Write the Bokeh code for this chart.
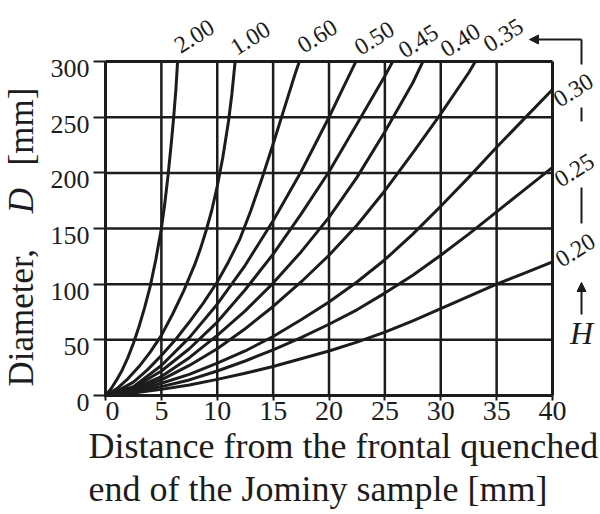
from bokeh.plotting import figure
from bokeh.models import Range1d, FixedTicker, Label, Arrow, NormalHead, ColumnDataSource
from bokeh.core.properties import value
from bokeh.embed import file_html
from bokeh.resources import INLINE

# ---------------- data ----------------
h_values = ["2.00", "1.00", "0.60", "0.50", "0.45", "0.40", "0.35", "0.30", "0.25", "0.20"]

x_h200 = [0, 0.5, 1, 1.5, 2, 2.5, 3, 3.5, 4, 4.5, 5, 5.3, 5.6, 5.9, 6.1, 6.3, 6.45]
d_h200 = [0, 6, 14, 23, 34, 47, 62, 79, 98, 122, 150, 172, 198, 228, 250, 275, 300]

x_h100 = [0, 1, 2, 3, 4, 5, 6, 7, 8, 8.5, 9, 9.5, 10, 10.5, 11, 11.3, 11.6]
d_h100 = [0, 6, 15, 26, 39, 54, 73, 94, 118, 132, 148, 166, 188, 214, 246, 270, 300]

x_h060 = [0, 1.25, 2.5, 3.75, 5, 6.25, 7.5, 8.75, 10, 11, 12, 13, 14, 15, 16, 17, 17.35]
d_h060 = [0, 5, 12, 23, 36, 50, 66, 83, 102, 120, 140, 166, 195, 226, 258, 290, 300]

x_h050 = [0, 2.5, 5, 7.5, 10, 12.5, 15, 17.5, 20, 21.2, 22.4]
d_h050 = [0, 8, 27, 52, 82, 117, 157, 201, 250, 275, 300]

x_h045 = [0, 2.5, 5, 7.5, 10, 12.5, 15, 17.5, 20, 22.5, 25, 25.7]
d_h045 = [0, 7, 22, 42, 66, 95, 127, 163, 201, 244, 287, 300]

x_h040 = [0, 2.5, 5, 7.5, 10, 12.5, 15, 17.5, 20, 22.5, 25, 27.5, 28.4]
d_h040 = [0, 6, 17, 34, 54, 76, 101, 129, 160, 196, 237, 281, 300]

x_h035 = [0, 2.5, 5, 7.5, 10, 12.5, 15, 17.5, 20, 22.5, 25, 27.5, 30, 32.5, 33.1]
d_h035 = [0, 5, 14, 27, 42, 60, 80, 102, 126, 153, 184, 218, 253, 290, 300]

x_h030 = [0, 2.5, 5, 7.5, 10, 12.5, 15, 17.5, 20, 22.5, 25, 27.5, 30, 32.5, 35, 37.5, 40]
d_h030 = [0, 4, 11, 19, 29, 40, 53, 68, 84, 102, 122, 145, 170, 196, 223, 249, 275]

x_h025 = [0, 2.5, 5, 7.5, 10, 12.5, 15, 17.5, 20, 22.5, 25, 27.5, 30, 32.5, 35, 37.5, 40]
d_h025 = [0, 3, 8, 14, 22, 31, 41, 52, 64, 77, 92, 108, 126, 145, 165, 185, 205]

x_h020 = [0, 2.5, 5, 7.5, 10, 12.5, 15, 17.5, 20, 22.5, 25, 27.5, 30, 32.5, 35, 37.5, 40]
d_h020 = [0, 2.2, 5.5, 9.5, 14.5, 20, 26, 33, 40, 48, 57, 67, 78, 89, 100, 110, 120]

curve_x = [x_h200, x_h100, x_h060, x_h050, x_h045, x_h040, x_h035, x_h030, x_h025, x_h020]
curve_d = [d_h200, d_h100, d_h060, d_h050, d_h045, d_h040, d_h035, d_h030, d_h025, d_h020]

x_ticks = [0, 5, 10, 15, 20, 25, 30, 35, 40]
y_ticks = [0, 50, 100, 150, 200, 250, 300]
y_tick_labels = ["0", "50", "100", "150", "200", "250", "300"]

# ---------------- layout (pixels of the 600x514 picture) ----------------
W, H = 600, 514
PX_PER_X = 11.175
PX_PER_Y = 1.113
X0_PX = 105
Y0_PX = 395
FONT = "Liberation Serif"
INK = "#1c1c1c"


def dx(px):
    return (px - X0_PX) / PX_PER_X


def dy(py):
    return (Y0_PX - py) / PX_PER_Y


p = figure(width=W, height=H,
           x_range=Range1d(dx(0), dx(W)),
           y_range=Range1d(dy(H), dy(0)),
           output_backend="svg", toolbar_location=None, title=None,
           min_border=0, min_border_left=0, min_border_right=0,
           min_border_top=0, min_border_bottom=0)
p.outline_line_color = None
p.background_fill_color = "white"
p.border_fill_color = "white"
p.xgrid.visible = False
p.ygrid.visible = False

xmin, xmax = x_ticks[0], x_ticks[-1]
ymin, ymax = y_ticks[0], y_ticks[-1]

# grid lines
p.segment(x0=x_ticks[1:-1], y0=[ymin] * (len(x_ticks) - 2), x1=x_ticks[1:-1], y1=[ymax] * (len(x_ticks) - 2),
          line_color=INK, line_width=2.5)
p.segment(x0=[xmin] * (len(y_ticks) - 2), y0=y_ticks[1:-1], x1=[xmax] * (len(y_ticks) - 2), y1=y_ticks[1:-1],
          line_color=INK, line_width=2.5)
# box
p.segment(x0=[xmin, xmax, xmin, xmin], y0=[ymin, ymin, ymin, ymax],
          x1=[xmin, xmax, xmax, xmax], y1=[ymax, ymax, ymin, ymax],
          line_color=INK, line_width=3)

# curves
for xs, ds in zip(curve_x, curve_d):
    p.line(xs, ds, line_color=INK, line_width=3, line_join="round", line_cap="round")

# H labels
lab_px = [(194, 36), (250, 38), (317, 36), (374, 38), (418, 41), (460, 40), (503, 35),
          (573, 90), (574, 170), (575, 250)]
lab_src = ColumnDataSource(dict(x=[dx(a) for a, b in lab_px], y=[dy(b) for a, b in lab_px], t=h_values))
p.text(x="x", y="y", text="t", source=lab_src, angle=0.56, text_align="center", text_baseline="middle",
       text_font=value(FONT), text_font_size="24px", text_color=INK)

# right-hand H indicator
xr = dx(581)
p.segment(x0=[xr, xr, xr], y0=[dy(39), dy(107), dy(187)], x1=[xr, xr, xr], y1=[dy(64), dy(121), dy(223)],
          line_color=INK, line_width=2)
p.add_layout(Arrow(end=NormalHead(size=9, fill_color=INK, line_color=INK), x_start=xr, y_start=dy(39),
                   x_end=dx(529), y_end=dy(39), line_width=2, line_color=INK))
p.add_layout(Arrow(end=NormalHead(size=9, fill_color=INK, line_color=INK), x_start=xr, y_start=dy(314),
                   x_end=xr, y_end=dy(282), line_width=2, line_color=INK))
p.text(x=[xr], y=[dy(332)], text=["H"], text_align="center", text_baseline="middle",
       text_font=value(FONT), text_font_style="italic", text_font_size="32px", text_color=INK)

# axes (drawn at x = 0 and D = 0 inside the canvas-wide frame)
for ax, ticks, bnds in ((p.xaxis, x_ticks, (xmin, xmax)), (p.yaxis, y_ticks, (ymin, ymax))):
    ax.ticker = FixedTicker(ticks=ticks)
    ax.bounds = bnds
    ax.fixed_location = 0
    ax.axis_line_color = None
    ax.major_tick_line_color = INK
    ax.major_tick_line_width = 2
    ax.minor_tick_line_color = None
    ax.major_label_text_font = FONT
    ax.major_label_text_color = INK

p.xaxis.major_tick_out = 5
p.xaxis.major_tick_in = 0
p.xaxis.major_label_text_font_size = "28px"
p.xaxis.major_label_standoff = -6
p.xaxis.major_label_overrides = {0: "\u20020"}

p.yaxis.major_tick_out = 12
p.yaxis.major_tick_in = 0
p.yaxis.major_label_overrides = {t: "" for t in y_ticks}
# y tick labels sit slightly below their ticks in the reference
p.text(x=[xmin] * len(y_ticks), y=y_ticks, text=y_tick_labels, x_offset=-16, y_offset=7,
       text_align="right", text_baseline="middle",
       text_font=value(FONT), text_font_size="26px", text_color=INK)

# axis titles
p.add_layout(Label(x=dx(88), y=dy(445), text="Distance from the frontal quenched",
                   text_font=FONT, text_font_size="36px", text_color=INK,
                   text_align="left", text_baseline="alphabetic"))
p.add_layout(Label(x=dx(88), y=dy(488), text="end of the Jominy sample [mm]",
                   text_font=FONT, text_font_size="36px", text_color=INK,
                   text_align="left", text_baseline="alphabetic"))
p.add_layout(Label(x=dx(21), y=dy(386), text="Diameter,", angle=1.5708,
                   text_font=FONT, text_font_size="35px", text_color=INK,
                   text_align="left", text_baseline="alphabetic"))
p.add_layout(Label(x=dx(21), y=dy(200), text="D", angle=1.5708,
                   text_font=FONT, text_font_style="italic", text_font_size="35px", text_color=INK,
                   text_align="center", text_baseline="alphabetic"))
p.add_layout(Label(x=dx(21), y=dy(126), text="[mm]", angle=1.5708,
                   text_font=FONT, text_font_size="35px", text_color=INK,
                   text_align="center", text_baseline="alphabetic"))

open("out.html", "w").write(file_html(p, INLINE))
